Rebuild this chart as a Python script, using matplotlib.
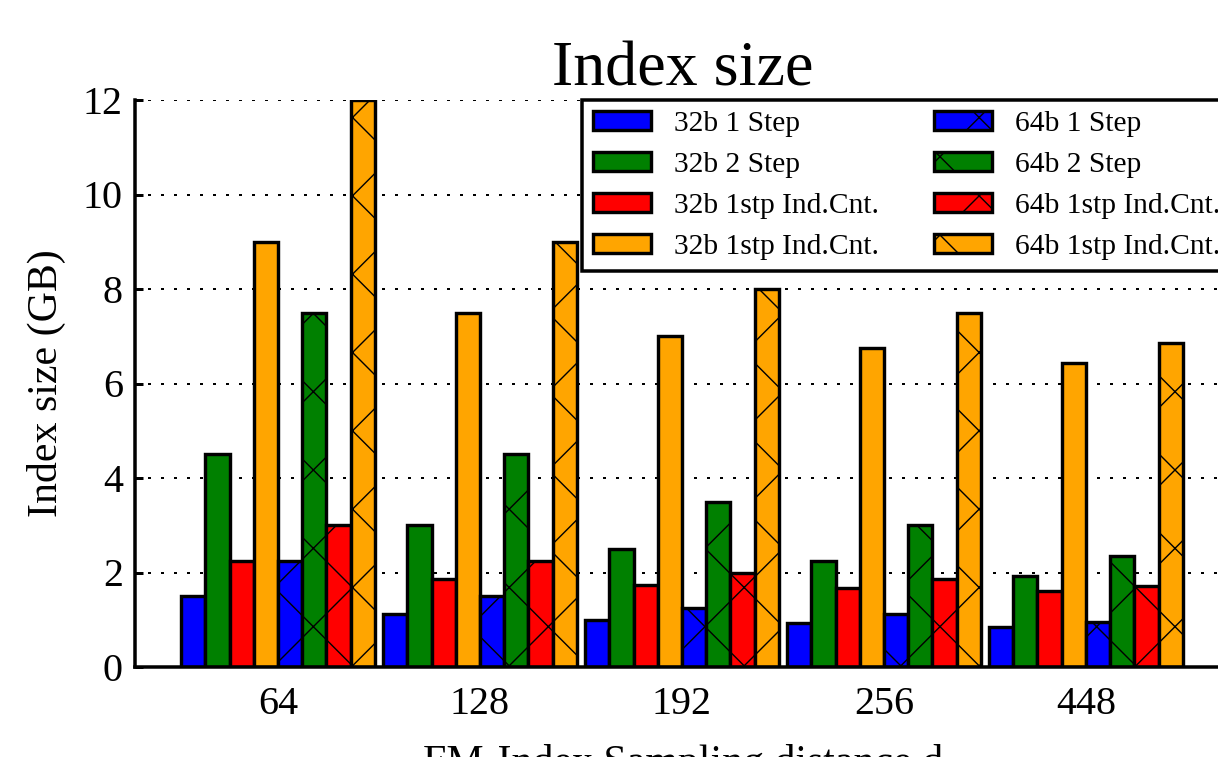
import numpy as np
import matplotlib
matplotlib.use('Agg')
import matplotlib.pyplot as plt

# high dpi so the hatch comes out as big sparse crosses like the original
DPI = 470
P = 72.0 / DPI  # one pixel in points

groups = ['64', '128', '192', '256', '448']
s32_1step = [1.5, 1.12, 1.0, 0.93, 0.85]
s32_2step = [4.5, 3.0, 2.5, 2.25, 1.93]
s32_ic_a = [2.25, 1.86, 1.74, 1.68, 1.6]
s32_ic_b = [9.0, 7.5, 7.0, 6.75, 6.43]
s64_1step = [2.25, 1.5, 1.24, 1.12, 0.96]
s64_2step = [7.5, 4.5, 3.5, 3.0, 2.35]
s64_ic_a = [3.0, 2.25, 2.0, 1.87, 1.71]
s64_ic_b = [12.0, 9.0, 8.0, 7.5, 6.86]

labels = ['32b 1 Step', '32b 2 Step', '32b 1stp Ind.Cnt.', '32b 1stp Ind.Cnt.',
          '64b 1 Step', '64b 2 Step', '64b 1stp Ind.Cnt.', '64b 1stp Ind.Cnt.']
colors = ['#0000ff', '#008000', '#ff0000', '#ffa500'] * 2
hatches = [None] * 4 + ['xx'] * 4
series = [s32_1step, s32_2step, s32_ic_a, s32_ic_b,
          s64_1step, s64_2step, s64_ic_a, s64_ic_b]

plt.rcParams['font.family'] = ['Liberation Serif', 'DejaVu Serif']
plt.rcParams['hatch.linewidth'] = 1.4 * P
plt.rcParams['hatch.color'] = 'black'
plt.rcParams['lines.scale_dashes'] = False

fig = plt.figure(figsize=(1218 / DPI, 757 / DPI), dpi=DPI)
ax = fig.add_axes([135 / 1218, 1 - 667 / 757, (1231 - 135) / 1218, (667 - 100) / 757])

x = np.arange(len(groups))
w = 0.12
for j, (vals, c, h, lab) in enumerate(zip(series, colors, hatches, labels)):
    ax.bar(x + (j - 3.5) * w, vals, w, color=c, edgecolor='black',
           linewidth=3.4 * P, hatch=h, label=lab)

ax.set_xlim(-0.708, 4.718)
ax.set_ylim(0, 12)
ax.set_xticks(x)
ax.set_xticklabels(groups)
ax.set_yticks(range(0, 13, 2))
ax.set_axisbelow(True)
ax.yaxis.grid(True, color='black', linewidth=2 * P, linestyle=(0, (3 * P, 10 * P)))

for s in ['top', 'right']:
    ax.spines[s].set_visible(False)
for s in ['left', 'bottom']:
    ax.spines[s].set_linewidth(3.5 * P)

ax.tick_params(axis='y', direction='in', length=8 * P, width=3 * P,
               pad=12 * P, labelsize=40 * P)
ax.tick_params(axis='x', length=0, pad=19 * P, labelsize=40 * P)

ax.set_title('Index size', fontsize=64 * P, pad=13 * P)
ax.set_xlabel('FM-Index Sampling distance d', fontsize=42 * P, labelpad=21 * P)
ax.set_ylabel('Index size (GB)', fontsize=42 * P, labelpad=17 * P)

leg = ax.legend(loc='upper right', ncol=2, fontsize=29.5 * P, borderaxespad=0,
                handlelength=1.97, handleheight=0.64, handletextpad=0.78,
                columnspacing=1.85, labelspacing=0.5, borderpad=0.37,
                fancybox=False, framealpha=1)
leg.get_frame().set_edgecolor('black')
leg.get_frame().set_linewidth(3.5 * P)

fig.savefig('out.png', dpi=DPI)
